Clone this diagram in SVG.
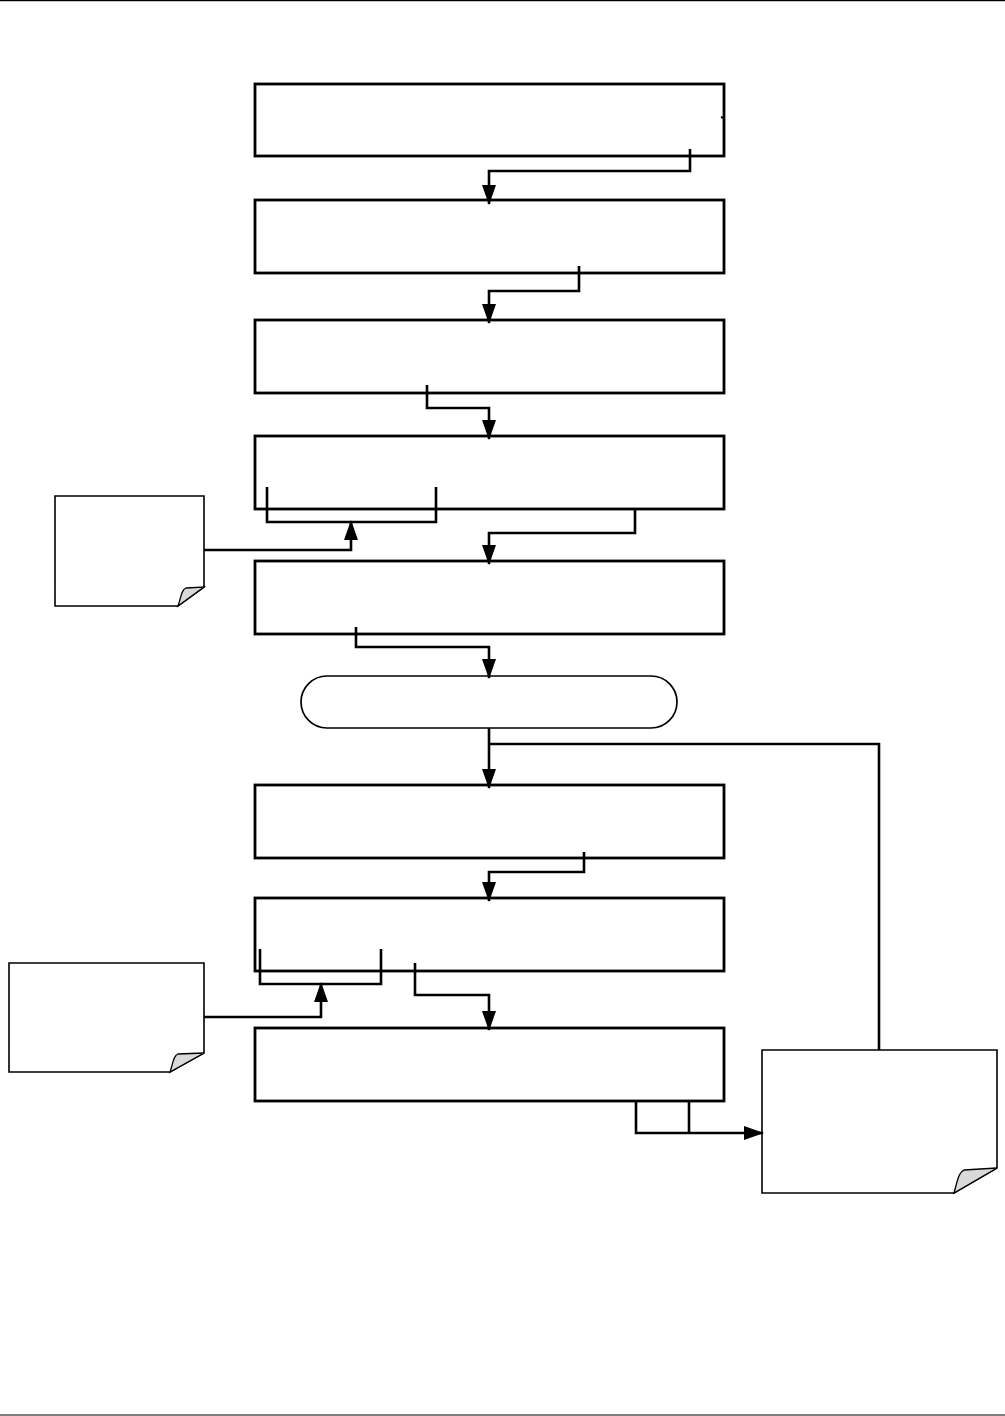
<svg xmlns="http://www.w3.org/2000/svg" width="1005" height="1416" viewBox="0 0 1005 1416">
<style>
.box{fill:#fff;stroke:#000;stroke-width:2.8}
.term{fill:#fff;stroke:#000;stroke-width:1.7}
.note{fill:#fff;stroke:#000;stroke-width:1.6}
.fold{fill:#d9d9d9;stroke:#000;stroke-width:1.3}
.c{fill:none;stroke:#000;stroke-width:2.6}
.page{stroke:#000;stroke-width:1.2}
</style>
<defs>
<marker id="ah" viewBox="0 0 20 14" refX="19" refY="7" markerWidth="20" markerHeight="14" markerUnits="userSpaceOnUse" orient="auto">
<path d="M0,0 L20,7 L0,14 z" fill="#000"/>
</marker>
</defs>
<rect width="1005" height="1416" fill="#fff"/>
<line class="page" x1="0" y1="0.6" x2="1005" y2="0.6"/>
<line class="page" x1="0" y1="1415" x2="1005" y2="1415"/>

<g id="box1"><rect class="box" x="255" y="84" width="469" height="72"/><line x1="721" y1="117" x2="724" y2="118" stroke="#000" stroke-width="2"/></g>
<g id="box2"><rect class="box" x="255" y="200" width="469" height="73"/></g>
<g id="box3"><rect class="box" x="255" y="320" width="469" height="73"/></g>
<g id="box4"><rect class="box" x="255" y="436" width="469" height="73"/></g>
<g id="box5"><rect class="box" x="255" y="561" width="469" height="73"/></g>
<g id="terminator"><rect class="term" x="301" y="676" width="376" height="52" rx="26" ry="26"/></g>
<g id="box7"><rect class="box" x="255" y="785" width="469" height="73"/></g>
<g id="box8"><rect class="box" x="255" y="898" width="469" height="73"/></g>
<g id="box9"><rect class="box" x="255" y="1028" width="469" height="73"/></g>

<g id="note1">
<path class="note" d="M55,496 H204 V587 L178,606 H55 Z"/>
<path class="fold" d="M178,606 C181,598 181,590 186,588 L204,587 Z"/>
</g>
<g id="note2">
<path class="note" d="M9,963 H204 V1053 L170,1072 H9 Z"/>
<path class="fold" d="M170,1072 C173,1064 173,1056 178,1054 L204,1053 Z"/>
</g>
<g id="note3">
<path class="note" d="M762,1050 H997 V1168 L954,1193 H762 Z"/>
<path class="fold" d="M954,1193 C957,1183 958,1173 964,1170 L997,1168 Z"/>
</g>

<g id="connectors">
<path class="c" d="M690,149 V171 H489 V204" marker-end="url(#ah)"/>
<path class="c" d="M579,266 V291 H489 V323" marker-end="url(#ah)"/>
<path class="c" d="M427,385 V408 H489 V439" marker-end="url(#ah)"/>
<path class="c" d="M267,487 V522 H436 V487"/>
<path class="c" d="M204,550 H351 V521" marker-end="url(#ah)"/>
<path class="c" d="M635,509 V533 H489 V564" marker-end="url(#ah)"/>
<path class="c" d="M356,627 V647 H489 V678" marker-end="url(#ah)"/>
<path class="c" d="M489,728 V788" marker-end="url(#ah)"/>
<path class="c" d="M489,744 H879 V1050"/>
<path class="c" d="M584,852 V872 H489 V901" marker-end="url(#ah)"/>
<path class="c" d="M260,949 V984 H381 V949"/>
<path class="c" d="M204,1017 H321 V983" marker-end="url(#ah)"/>
<path class="c" d="M415,963 V995 H489 V1030" marker-end="url(#ah)"/>
<path class="c" d="M636,1101 V1133 H763" marker-end="url(#ah)"/>
<path class="c" d="M689,1101 V1133"/>
</g>
</svg>
